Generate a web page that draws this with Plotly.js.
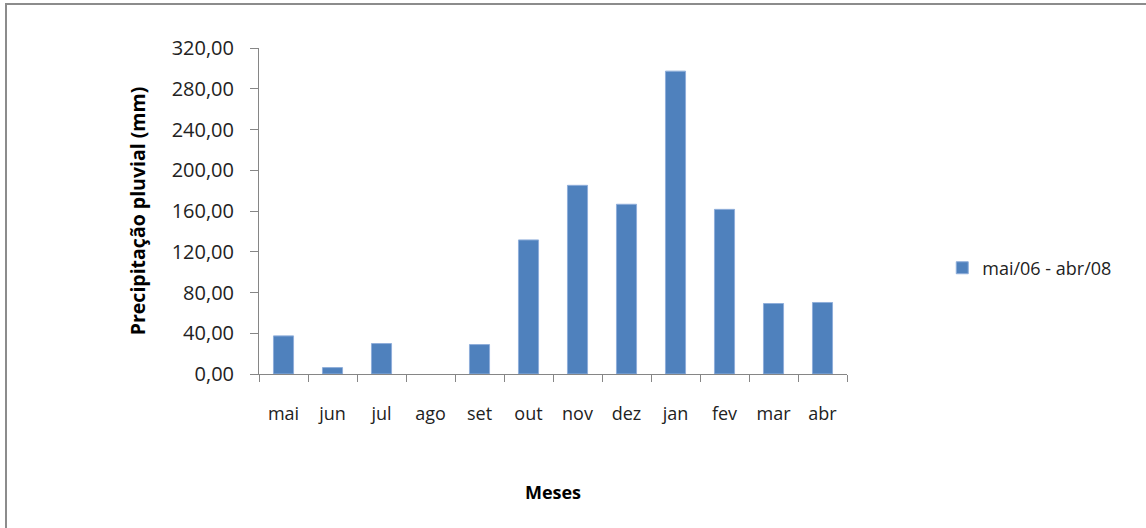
<!DOCTYPE html>
<html>
<head>
<meta charset="utf-8">
<script src="https://cdn.plot.ly/plotly-3.0.1.min.js"></script>
<style>
html,body{margin:0;padding:0;background:#fff;}
#wrap{position:absolute;left:0;top:0;width:1146px;height:528px;overflow:hidden;}
#frame{position:absolute;left:5px;top:3px;width:1160px;height:560px;border-left:2px solid #8c8c8c;border-top:2px solid #8c8c8c;box-sizing:border-box;pointer-events:none;}
#chart{position:absolute;left:0;top:0;width:1146px;height:528px;}
</style>
</head>
<body>
<div id="wrap">
<div id="chart"></div>
<div id="frame"></div>
</div>
<script>
const months = ["mai","jun","jul","ago","set","out","nov","dez","jan","fev","mar","abr"];
const rainfall = [37.4, 6.3, 29.9, 0, 28.9, 131.6, 185.2, 166.6, 297.3, 161.6, 69.2, 70.2];
const seriesName = "mai/06 - abr/08";
const yTicks = [0, 40, 80, 120, 160, 200, 240, 280, 320];

const font = "Open Sans, Lato, sans-serif";

const trace = {
  type: "bar",
  x: months,
  y: rainfall,
  name: seriesName,
  marker: {color: "#4F81BD", line: {color: "#8FAEDA", width: rainfall.map(v => v > 0 ? 1 : 0)}},
  showlegend: true
};

const layout = {
  width: 1146, height: 528,
  margin: {l: 259, r: 299, t: 48, b: 154},
  paper_bgcolor: "#ffffff",
  plot_bgcolor: "#ffffff",
  separators: ",.",
  bargap: 0.59,
  showlegend: true,
  font: {family: font, color: "#000000", size: 17},
  xaxis: {
    type: "category",
    tickson: "boundaries",
    ticks: "outside",
    ticklen: 7,
    tickcolor: "#868686",
    showline: true,
    linecolor: "#868686",
    linewidth: 1,
    showgrid: false,
    zeroline: false,
    ticklabelstandoff: 23,
    tickfont: {family: font, size: 18, color: "#222"},
    title: {text: "Meses", font: {family: font, size: 18, color: "#000", weight: "bold"}, standoff: 62}
  },
  yaxis: {
    range: [0, 320],
    tickvals: yTicks,
    tickformat: ".2f",
    ticks: "outside",
    ticklen: 8,
    tickcolor: "#868686",
    showline: true,
    linecolor: "#868686",
    linewidth: 1,
    showgrid: false,
    zeroline: false,
    ticklabelstandoff: 12,
    tickfont: {family: font, size: 20, color: "#222"},
    title: {text: "Precipitação pluvial (mm)", font: {family: font, size: 19.5, color: "#000", weight: "bold"}, standoff: 20}
  },
  legend: {
    x: 1.162, y: 0.325, xanchor: "left", yanchor: "middle",
    font: {family: font, size: 18, color: "#222"},
    bgcolor: "rgba(0,0,0,0)",
    itemwidth: 30
  }
};

Plotly.newPlot("chart", [trace], layout, {displayModeBar: false, staticPlot: true});
</script>
</body>
</html>
